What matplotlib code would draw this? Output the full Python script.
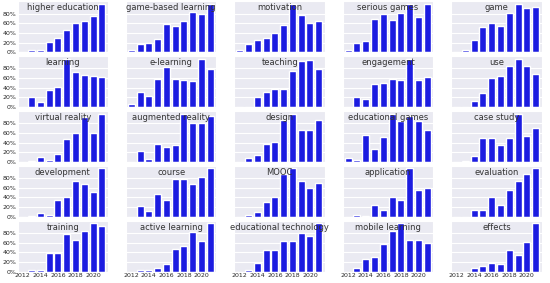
import matplotlib
matplotlib.use('Agg')
import matplotlib.pyplot as plt
import seaborn as sns
from matplotlib.ticker import PercentFormatter

sns.set_style('darkgrid')

years = [2012, 2013, 2014, 2015, 2016, 2017, 2018, 2019, 2020, 2021]

# share of publications per year, normalised to the peak year (%)
titles = ['higher education', 'game-based learning', 'motivation', 'serious games', 'game',
          'learning', 'e-learning', 'teaching', 'engagement', 'use',
          'virtual reality', 'augmented reality', 'design', 'educational games', 'case study',
          'development', 'course', 'MOOC', 'application', 'evaluation',
          'training', 'active learning', 'educational technology', 'mobile learning', 'effects']

higher_education = [0, 5, 5, 22, 29, 46, 60, 65, 74, 100]
game_based_learning = [4, 16, 19, 28, 59, 55, 64, 84, 79, 100]
motivation = [4, 16, 25, 29, 40, 57, 100, 76, 61, 64]
serious_games = [4, 20, 23, 68, 80, 66, 82, 100, 72, 100]
game = [0, 5, 26, 53, 60, 55, 82, 100, 91, 94]
learning = [0, 20, 11, 36, 41, 100, 73, 67, 65, 62]
e_learning = [7, 31, 22, 58, 83, 58, 56, 53, 100, 78]
teaching = [0, 1, 20, 31, 37, 37, 75, 96, 98, 79]
engagement = [1, 20, 16, 48, 50, 58, 55, 100, 55, 63]
use = [0, 0, 13, 30, 61, 64, 85, 100, 85, 68]
virtual_reality = [0, 1, 11, 5, 17, 47, 59, 93, 59, 100]
augmented_reality = [0, 22, 6, 37, 30, 34, 100, 80, 80, 96]
design = [0, 8, 15, 37, 41, 87, 100, 67, 67, 87]
educational_games = [8, 3, 56, 27, 52, 100, 85, 96, 85, 67]
case_study = [0, 1, 13, 49, 49, 35, 49, 100, 53, 71]
development = [0, 2, 8, 4, 35, 40, 73, 68, 52, 100]
course = [0, 22, 12, 48, 35, 78, 78, 68, 82, 100]
mooc = [0, 3, 10, 30, 40, 88, 100, 75, 60, 70]
application = [0, 3, 2, 25, 15, 40, 35, 100, 55, 60]
evaluation = [0, 0, 15, 15, 40, 25, 55, 75, 88, 100]
training = [0, 3, 3, 38, 38, 78, 66, 85, 100, 95]
active_learning = [0, 4, 4, 8, 15, 46, 54, 82, 63, 100]
educational_technology = [0, 3, 18, 44, 44, 64, 64, 79, 74, 100]
mobile_learning = [0, 8, 26, 31, 57, 84, 100, 66, 66, 60]
effects = [0, 0, 8, 12, 18, 15, 45, 35, 62, 100]

series = [higher_education, game_based_learning, motivation, serious_games, game,
          learning, e_learning, teaching, engagement, use,
          virtual_reality, augmented_reality, design, educational_games, case_study,
          development, course, mooc, application, evaluation,
          training, active_learning, educational_technology, mobile_learning, effects]

fig, axes = plt.subplots(5, 5, figsize=(5.5, 2.83), dpi=100, sharex=True, sharey=True)
fig.subplots_adjust(left=0.032, right=0.985, top=0.995, bottom=0.04, wspace=0.2, hspace=0.08)

for ax, t, vals in zip(axes.flat, titles, series):
    ax.bar(years, [v / 100 for v in vals], width=0.8, color='#1c1ce0')
    ax.set_title(t, y=0.83, pad=0, fontsize=6, color='#333333')
    ax.tick_params(labelsize=4.5, pad=1, length=0)
    ax.grid(False, axis='x')

ax = axes[0, 0]
ax.set_ylim(0, 1.05)
ax.set_yticks([0, 0.2, 0.4, 0.6, 0.8])
ax.yaxis.set_major_formatter(PercentFormatter(1, decimals=0))
ax.set_xlim(2011.4, 2021.7)
ax.set_xticks([2012, 2014, 2016, 2018, 2020])

plt.savefig('out.png', dpi=100)
